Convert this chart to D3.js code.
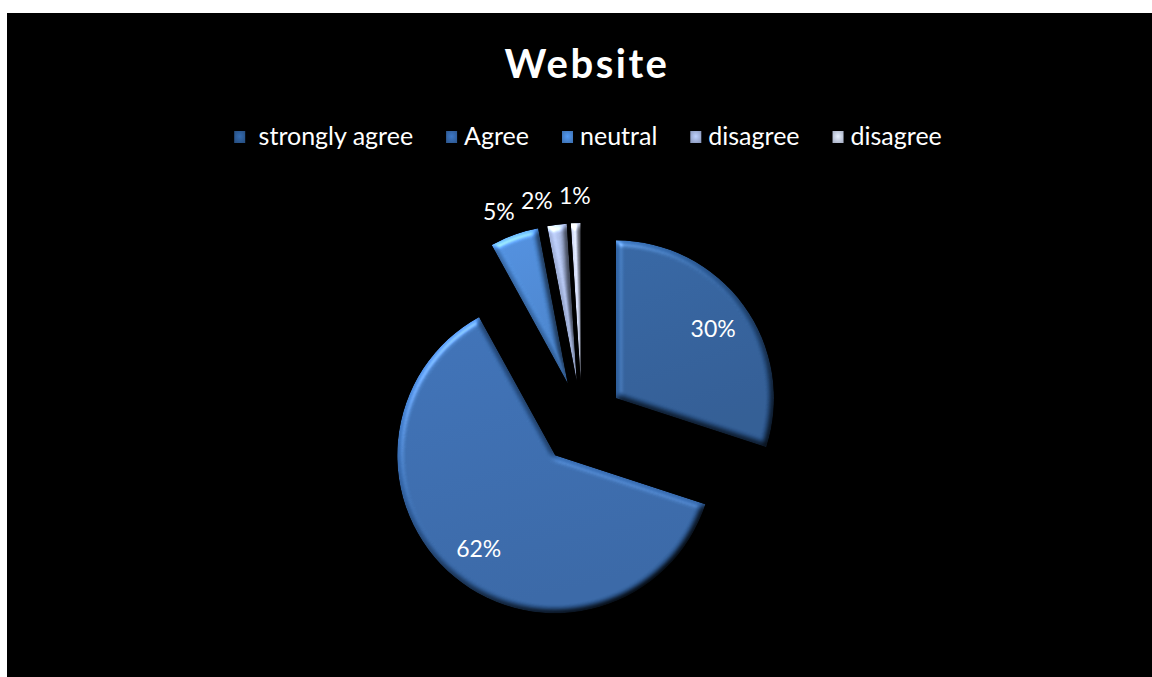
<!DOCTYPE html>
<html>
<head>
<meta charset="utf-8">
<script src="https://cdn.jsdelivr.net/npm/d3@7"></script>
<style>
  html, body { margin: 0; padding: 0; background: #ffffff; }
  svg { display: block; }
  text { font-family: Lato, "Open Sans", sans-serif; }
</style>
</head>
<body>
<svg id="chart" width="1152" height="677"></svg>
<script>
// Survey answers for the "Website" question
const categories = [" strongly agree", "Agree", "neutral", "disagree", "disagree"];
const values = [30, 62, 5, 2, 1];
const colors = ["#2c5a94", "#3465a7", "#4682cd", "#a0b0d8", "#c2cae2"];
const title = "Website";

const width = 1152, height = 677;
const svg = d3.select("#chart");

// black plot panel
svg.append("rect")
  .attr("x", 7).attr("y", 13)
  .attr("width", width - 7).attr("height", height - 13)
  .attr("fill", "#000");

const defs = svg.append("defs");

// soft bevel: lit from upper-left, shaded on the far edges
function bevelFilter(id, blur, scale) {
  const f = defs.append("filter").attr("id", id)
    .attr("x", "-5%").attr("y", "-5%").attr("width", "110%").attr("height", "110%")
    .attr("color-interpolation-filters", "sRGB");
  f.append("feGaussianBlur").attr("in", "SourceAlpha").attr("stdDeviation", blur).attr("result", "blur");
  const diff = f.append("feDiffuseLighting").attr("in", "blur")
    .attr("surfaceScale", scale).attr("diffuseConstant", 1)
    .attr("lighting-color", "#ffffff").attr("result", "diff");
  diff.append("feDistantLight").attr("azimuth", 235).attr("elevation", 50);
  f.append("feComposite").attr("in", "SourceGraphic").attr("in2", "diff")
    .attr("operator", "arithmetic").attr("k1", 1.3).attr("k2", 0).attr("k3", 0).attr("k4", 0)
    .attr("result", "shaded");
  const spec = f.append("feSpecularLighting").attr("in", "blur")
    .attr("surfaceScale", scale).attr("specularConstant", 0.5).attr("specularExponent", 18)
    .attr("lighting-color", "#ffffff").attr("result", "spec");
  spec.append("feDistantLight").attr("azimuth", 235).attr("elevation", 40);
  f.append("feComposite").attr("in", "spec").attr("in2", "SourceAlpha")
    .attr("operator", "in").attr("result", "specIn");
  f.append("feComposite").attr("in", "shaded").attr("in2", "specIn")
    .attr("operator", "arithmetic").attr("k1", 0).attr("k2", 1).attr("k3", 0.5).attr("k4", 0)
    .attr("result", "lit");
  f.append("feComposite").attr("in", "lit").attr("in2", "SourceAlpha").attr("operator", "in");
}
bevelFilter("bevel", 3, 4);

// per-slice shading gradients
colors.forEach((c, i) => {
  const g = defs.append("linearGradient").attr("id", "grad" + i)
    .attr("x1", 0).attr("y1", 0).attr("x2", 0.25).attr("y2", 1);
  g.append("stop").attr("offset", "0%").attr("stop-color", d3.color(c).brighter(0.15));
  g.append("stop").attr("offset", "100%").attr("stop-color", d3.color(c).darker(0.15));
  // pyramid-style swatch shading for the legend keys
  const s = defs.append("radialGradient").attr("id", "swatch" + i)
    .attr("cx", 0.5).attr("cy", 0.45).attr("r", 0.6);
  s.append("stop").attr("offset", "0%").attr("stop-color", d3.color(c).brighter(0.5));
  s.append("stop").attr("offset", "100%").attr("stop-color", d3.color(c).darker(0.3));
});

// title
svg.append("text")
  .attr("x", 587).attr("y", 78)
  .attr("text-anchor", "middle")
  .attr("font-size", 40).attr("font-weight", 700)
  .attr("letter-spacing", 2.5)
  .attr("fill", "#fff")
  .text(title);

// exploded pie
const cx = 582, cy = 423, R = 158, explode = 42;
const pie = d3.pie().sort(null).value(d => d);
const arcs = pie(values);
const arc = d3.arc().innerRadius(0).outerRadius(R);
const labelArc = d3.arc().innerRadius(R * 0.76).outerRadius(R * 0.76);

const mid = a => (a.startAngle + a.endAngle) / 2;
const offset = (a, r) => [Math.sin(mid(a)) * r, -Math.cos(mid(a)) * r];

const pieG = svg.append("g").attr("transform", `translate(${cx},${cy})`);

pieG.selectAll("path.slice")
  .data(arcs)
  .join("path")
  .attr("class", "slice")
  .attr("transform", d => `translate(${offset(d, explode)})`)
  .attr("d", arc)
  .attr("fill", (d, i) => `url(#grad${i})`)
  .attr("filter", "url(#bevel)");

// labels: large slices inside, thin slices outside
const fmt = v => v + "%";
const labelPos = arcs.map(a => {
  const share = (a.endAngle - a.startAngle) / (2 * Math.PI);
  if (share >= 0.1) {
    const [ox, oy] = offset(a, explode);
    const [lx, ly] = labelArc.centroid(a);
    return { x: ox + lx, y: oy + ly, a };
  }
  const r = R + explode + 28;
  const [lx, ly] = offset(a, r);
  return { x: lx, y: ly, r, a, outside: true };
});
// nudge outside labels apart, walking back from the last slice
const outside = labelPos.filter(p => p.outside);
for (let i = outside.length - 2; i >= 0; i--) {
  const next = outside[i + 1], p = outside[i];
  const minGap = 38;
  if (p.x > next.x - minGap) {
    p.x = next.x - minGap;
    p.y = -Math.sqrt(Math.max(0, p.r * p.r - p.x * p.x));
  }
}

pieG.selectAll("text.pct")
  .data(labelPos)
  .join("text")
  .attr("class", "pct")
  .attr("x", d => d.x).attr("y", d => d.y)
  .attr("text-anchor", "middle")
  .attr("dominant-baseline", "central")
  .attr("font-size", 23)
  .attr("fill", "#fff")
  .text(d => fmt(d.a.data));

// legend
const legend = svg.append("g");
const items = legend.selectAll("g.item")
  .data(categories)
  .join("g")
  .attr("class", "item");
items.append("rect")
  .attr("width", 11).attr("height", 12)
  .attr("y", 131)
  .attr("fill", (d, i) => `url(#swatch${i})`);
items.append("text")
  .attr("x", 18).attr("y", 145)
  .attr("font-size", 25)
  .attr("fill", "#fff")
  .style("white-space", "pre")
  .text(d => d);

const gap = 33;
const widths = items.nodes().map(n => 18 + n.querySelector("text").getComputedTextLength());
const total = d3.sum(widths) + gap * (widths.length - 1);
let x0 = 588 - total / 2;
items.attr("transform", (d, i) => {
  const t = `translate(${x0},0)`;
  x0 += widths[i] + gap;
  return t;
});
</script>
</body>
</html>
